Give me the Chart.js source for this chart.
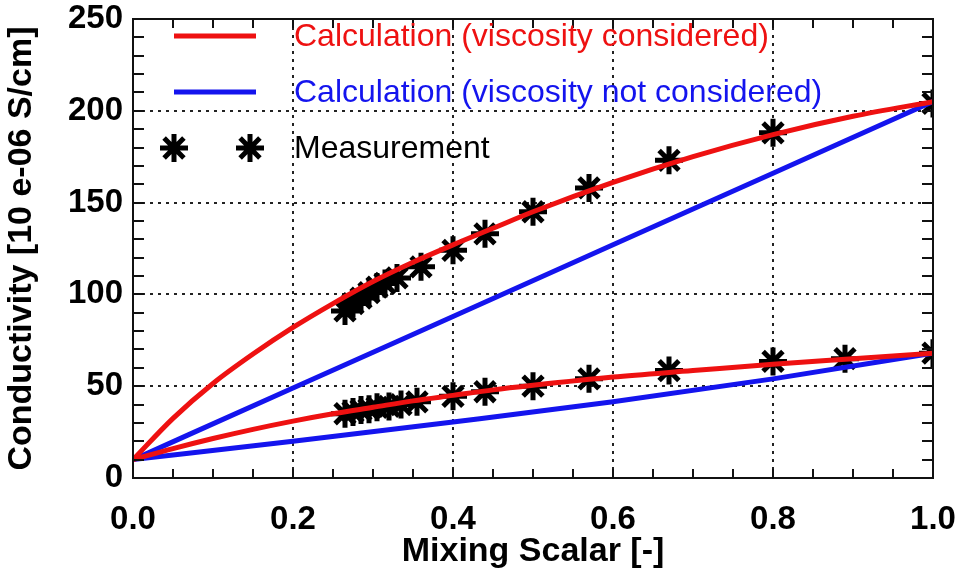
<!DOCTYPE html>
<html>
<head>
<meta charset="utf-8">
<script src="https://cdn.jsdelivr.net/npm/chart.js@4.4.1/dist/chart.umd.min.js"></script>
<style>
  html, body { margin: 0; padding: 0; background: #fff; }
  #wrap { width: 958px; height: 572px; }
</style>
</head>
<body>
<div id="wrap"><canvas id="condChart" width="958" height="572"></canvas></div>
<script>
// calculated curves
const calcX = [0, 0.05, 0.1, 0.15, 0.2, 0.25, 0.3, 0.35, 0.4, 0.45, 0.5, 0.6, 0.7, 0.8, 0.9, 1.0];
const viscHigh = [10, 32.5, 51.5, 67.5, 82, 95, 107, 117.5, 127, 136, 145, 161, 175, 187, 197, 205];
const viscLow = [10, 16, 21.5, 26.5, 31, 35, 38.5, 42, 45, 48, 50.5, 55, 58.5, 62, 65, 68];

const lineX = [0, 0.2, 0.4, 0.6, 0.8, 1.0];
const noViscHigh = [10, 49, 88, 127, 166, 205];
const noViscLow = [10, 20, 30.5, 41.5, 54, 68];

// measurements
const measHighX = [0.265, 0.275, 0.285, 0.295, 0.305, 0.315, 0.33, 0.36, 0.40, 0.44, 0.50, 0.57, 0.67, 0.80, 1.0];
const measHighY = [91, 95, 98, 101, 104, 106, 109, 115, 124, 133, 145, 158, 173, 188, 204];
const measLowX = [0.265, 0.275, 0.285, 0.295, 0.305, 0.32, 0.335, 0.355, 0.40, 0.44, 0.50, 0.57, 0.67, 0.80, 0.89, 1.0];
const measLowY = [35, 36, 37, 37.5, 38.5, 39, 40, 41.5, 44.5, 47, 50, 54, 58.5, 63.5, 65, 68];

const legendLabels = ['Calculation (viscosity considered)', 'Calculation (viscosity not considered)', 'Measurement'];
const RED = '#ee1111';
const BLUE = '#1414ee';

const pts = (xs, ys) => xs.map((x, i) => ({x: x, y: ys[i]}));

const calcLine = (data, color) => ({
    data: data,
    showLine: true,
    borderColor: color,
    backgroundColor: color,
    borderWidth: 5,
    pointRadius: 0,
    cubicInterpolationMode: 'monotone',
    order: 1
});

const measSet = data => ({
    data: data,
    showLine: false,
    pointStyle: 'star',
    pointRadius: 14,
    pointBorderWidth: 5,
    borderColor: '#000',
    backgroundColor: '#000',
    clip: 0,
    order: 3
});

// inward minor ticks + closed frame, IDL style
const frameTicks = {
    id: 'frameTicks',
    afterDatasetsDraw(chart) {
        const {ctx, chartArea: a, scales: {x, y}} = chart;
        ctx.save();
        ctx.strokeStyle = '#111';
        ctx.lineWidth = 2;
        for (let v = 0; v <= 1.0001; v += 0.05) {
            const px = Math.round(x.getPixelForValue(v));
            ctx.beginPath();
            ctx.moveTo(px, a.bottom); ctx.lineTo(px, a.bottom - 9);
            ctx.moveTo(px, a.top); ctx.lineTo(px, a.top + 9);
            ctx.stroke();
        }
        for (let v = 0; v <= 250; v += 10) {
            const py = Math.round(y.getPixelForValue(v));
            ctx.beginPath();
            ctx.moveTo(a.left, py); ctx.lineTo(a.left + 11, py);
            ctx.moveTo(a.right, py); ctx.lineTo(a.right - 11, py);
            ctx.stroke();
        }
        ctx.strokeRect(a.left, a.top, a.right - a.left, a.bottom - a.top);
        ctx.restore();
    }
};

// legend drawn inside the plot, top left
const insideLegend = {
    id: 'insideLegend',
    afterDraw(chart) {
        const {ctx} = chart;
        const colors = [RED, BLUE, '#000'];
        const rows = [36, 92, 148];
        ctx.save();
        ctx.font = '32px "Liberation Sans", Arial, sans-serif';
        ctx.textBaseline = 'middle';
        rows.forEach((ry, i) => {
            if (i < 2) {
                ctx.strokeStyle = colors[i];
                ctx.lineWidth = 5;
                ctx.beginPath();
                ctx.moveTo(174, ry); ctx.lineTo(256, ry);
                ctx.stroke();
            } else {
                ctx.strokeStyle = '#000';
                [174, 250].forEach(sx => Chart.helpers.drawPoint(ctx,
                    {pointStyle: 'star', radius: 14, borderWidth: 5, rotation: 0}, sx, ry));
            }
            ctx.fillStyle = colors[i];
            ctx.fillText(legendLabels[i], 294, ry + 1);
        });
        ctx.restore();
    }
};

const tickFont = {family: '"Liberation Sans", Arial, sans-serif', size: 33, weight: 'bold'};
const titleFont = {family: '"Liberation Sans", Arial, sans-serif', size: 34, weight: 'bold'};

new Chart(document.getElementById('condChart').getContext('2d'), {
    type: 'scatter',
    data: {
        datasets: [
            calcLine(pts(calcX, viscHigh), RED),
            calcLine(pts(calcX, viscLow), RED),
            calcLine(pts(lineX, noViscHigh), BLUE),
            calcLine(pts(lineX, noViscLow), BLUE),
            measSet(pts(measHighX, measHighY)),
            measSet(pts(measLowX, measLowY))
        ]
    },
    options: {
        responsive: false,
        animation: false,
        layout: {padding: {top: 10, right: 25, left: 0, bottom: 0}},
        plugins: {
            legend: {display: false},
            tooltip: {enabled: false}
        },
        scales: {
            x: {
                type: 'linear',
                min: 0,
                max: 1,
                afterFit: s => { s.height = 94; s.paddingLeft = 0; s.paddingRight = 0; },
                ticks: {
                    stepSize: 0.2,
                    color: '#000',
                    font: tickFont,
                    padding: 22,
                    maxRotation: 0,
                    callback: v => v.toFixed(1)
                },
                grid: {
                    drawTicks: false,
                    lineWidth: 2,
                    color: c => (c.tick && (c.tick.value === 0 || c.tick.value === 1)) ? 'rgba(0,0,0,0)' : '#222'
                },
                border: {display: true, color: '#111', width: 2, dash: [3, 5]},
                title: {
                    display: true,
                    text: 'Mixing Scalar [-]',
                    color: '#000',
                    font: titleFont,
                    padding: {top: 0, bottom: 0}
                }
            },
            y: {
                min: 0,
                max: 250,
                afterFit: s => { s.width = 133; s.paddingTop = 0; s.paddingBottom = 0; },
                ticks: {
                    stepSize: 50,
                    color: '#000',
                    font: tickFont,
                    padding: 10
                },
                grid: {
                    drawTicks: false,
                    lineWidth: 2,
                    color: c => (c.tick && (c.tick.value === 0 || c.tick.value === 250)) ? 'rgba(0,0,0,0)' : '#222'
                },
                border: {display: true, color: '#111', width: 2, dash: [3, 5]},
                title: {
                    display: true,
                    text: 'Conductivity [10 e-06 S/cm]',
                    color: '#000',
                    font: titleFont,
                    padding: {top: 1, bottom: 0}
                }
            }
        }
    },
    plugins: [frameTicks, insideLegend]
});
</script>
</body>
</html>
